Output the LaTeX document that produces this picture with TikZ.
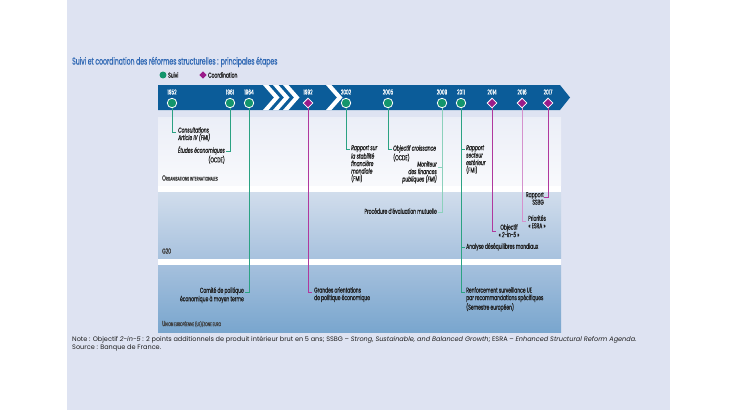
\documentclass[tikz,border=0pt]{standalone}
\usepackage{fontspec}
\setmainfont{Poppins}
\newfontfamily\cnd[FakeStretch=0.62,FakeBold=0.7]{Poppins}
\newfontfamily\cndb[FakeStretch=0.62,FakeBold=1.6]{Poppins}
\usetikzlibrary{shapes.geometric}
\definecolor{panel}{HTML}{DEE3F2}
\definecolor{titleblue}{HTML}{2F68B4}
\definecolor{band}{HTML}{0B5C99}
\definecolor{suivi}{HTML}{13956C}
\definecolor{coord}{HTML}{9A1C8A}
\definecolor{sline}{HTML}{2BA283}
\definecolor{slinel}{HTML}{8CD1BC}
\definecolor{cline}{HTML}{B0389E}
\definecolor{clinel}{HTML}{D591CD}
\definecolor{txt}{HTML}{1E1E1E}
\newcommand\fsc[2]{{\fontsize{7.4}{8}\selectfont #1}{\fontsize{5.3}{6}\selectfont #2}}
\tikzset{
  yr/.style={text=white, font=\cnd\fontsize{6.9}{7}\selectfont, inner sep=0},
  su/.style={circle, fill=suivi, draw=white, line width=0.8, minimum size=9.5, inner sep=0},
  co/.style={diamond, fill=coord, draw=white, line width=0.8, minimum size=10, inner sep=0},
  sl/.style={draw=sline, line width=0.9},
  sll/.style={draw=slinel, line width=0.9},
  cl/.style={draw=cline, line width=0.9},
  cll/.style={draw=clinel, line width=0.9},
  lbl/.style={text=txt, font=\cnd\fontsize{7.2}{7.5}\selectfont, inner sep=0},
  lane/.style={text=txt!85, font=\cndb, inner sep=0, anchor=west},
}
\begin{document}
\begin{tikzpicture}[x=1bp,y=-1bp]
\useasboundingbox (0,0) rectangle (730,410);
\fill[white] (0,0) rectangle (730,410);
\fill[panel] (67,0) rectangle (670,410);
% title and legend
\node[anchor=west, text=titleblue, font=\cnd\fontsize{9.9}{11}\selectfont, inner sep=0] (title) at (72,62) {Suivi et coordination des réformes structurelles : principales étapes};
\node[su, minimum size=7, draw=none] (lgs) at (163,75) {};
\node[lbl, anchor=west] (lgst) at (168,75) {Suivi};
\node[co, minimum size=7.5, draw=none] (lgc) at (203,75) {};
\node[lbl, anchor=west] (lgct) at (208,75) {Coordination};
% lanes
\fill[white] (158,117) rectangle (561,333);
\shade[top color=white!40!panel, bottom color=white!80!panel] (158,117) rectangle (561,185);
\shade[top color={rgb,255:red,209;green,221;blue,236}, bottom color={rgb,255:red,168;green,194;blue,222}] (158,192) rectangle (561,258);
\shade[top color={rgb,255:red,165;green,192;blue,221}, bottom color={rgb,255:red,121;green,166;blue,206}] (158,265) rectangle (561,332);
\node[lane] (lane1) at (162,178) {\fsc{O}{RGANISATIONS INTERNATIONALES}};
\node[lane, font=\cndb\fontsize{7.2}{8}\selectfont] (lane2) at (162,251) {G20};
\node[lane] (lane3) at (162,324) {\fsc{U}{NION EUROPÉENNE (UE)/ZONE EURO}};
% band
\fill[band] (158,85) -- (560,85) -- (570,97.5) -- (560,110) -- (158,110) -- cycle;
\foreach \x in {263,273,283,326}
  \fill[white] (\x,85) -- ++(5.5,0) -- ++(11,12.5) -- ++(-11,12.5) -- ++(-5.5,0) -- ++(11,-12.5) -- cycle;
% years
\foreach \n/\x in {1952/172,1961/230,1964/249,1992/308,2002/346,2005/388,2009/442,2011/461,2014/492,2016/522,2017/548}
  \node[yr] (t\n) at (\x,92) {\n};
% tick coordinates
\coordinate (e1952) at (172,132);
\coordinate (e1961) at (230,151);
\coordinate (e1964) at (249,292);
\coordinate (e1992) at (308,292);
\coordinate (e2002) at (346,149);
\coordinate (e2005) at (388,149);
\coordinate (a2009) at (442,167);
\coordinate (e2009) at (442,212);
\coordinate (a2011) at (461,149);
\coordinate (b2011) at (461,247);
\coordinate (e2011) at (461,292);
\coordinate (e2014) at (492,231);
\coordinate (e2016) at (522,221);
\coordinate (e2017) at (548,197);
% lines
\draw[sl] (172,103) -- (e1952) -- ++(4,0);
\draw[sl] (230,103) -- (e1961) -- ++(-4,0);
\draw[sl] (249,103) -- (e1964) -- ++(-4,0);
\draw[cl] (308,103) -- (e1992) -- ++(4,0);
\draw[sl] (346,103) -- (e2002) -- ++(4,0);
\draw[sl] (388,103) -- (e2005) -- ++(4,0);
\draw[sll] (442,103) -- (e2009) -- ++(-4,0);
\draw[sll] (a2009) -- ++(-4,0);
\draw[sl] (461,103) -- (e2011) -- ++(4,0);
\draw[sl] (a2011) -- ++(4,0);
\draw[sl] (b2011) -- ++(4,0);
\draw[cl] (492,103) -- (e2014) -- ++(4,0);
\draw[cll] (522,103) -- (e2016) -- ++(4,0);
\draw[cl] (548,103) -- (e2017) -- ++(-4,0);
% markers
\foreach \n/\x in {1952/172,1961/230,1964/249,2002/346,2005/388,2009/442,2011/461}
  \node[su] (m\n) at (\x,103) {};
\foreach \n/\x in {1992/308,2014/492,2016/522,2017/548}
  \node[co] (m\n) at (\x,103) {};
% labels
\node[lbl, anchor=north west, align=left] (l1952) at (178,127) {\itshape Consultations\\\itshape Article IV (FMI)};
\node[lbl, anchor=north east, align=right] (l1961) at (225,146) {\itshape Études économiques\\(OCDE)};
\node[lbl, anchor=north east, align=right] (l1964) at (244,287) {Comité de politique\\économique à moyen terme};
\node[lbl, anchor=north west, align=left] (l1992) at (314,287) {Grandes orientations\\de politique économique};
\node[lbl, anchor=north west, align=left] (l2002) at (351,145) {\itshape Rapport sur\\\itshape la stabilité\\\itshape financière\\\itshape mondiale\\(FMI)};
\node[lbl, anchor=north west, align=left] (l2005) at (393,145) {\itshape Objectif croissance\\(OCDE)};
\node[lbl, anchor=north east, align=right] (l2009a) at (437,161) {\itshape Moniteur\\\itshape des finances\\\itshape publiques (FMI)};
\node[lbl, anchor=north east, align=right] (l2009b) at (437,208) {Procédure d’évaluation mutuelle};
\node[lbl, anchor=north west, align=left] (l2011a) at (466,145) {\itshape Rapport\\\itshape secteur\\\itshape extérieur\\(FMI)};
\node[lbl, anchor=north west, align=left] (l2011b) at (466,243) {Analyse déséquilibres mondiaux};
\node[lbl, anchor=north west, align=left] (l2011c) at (466,287) {Renforcement surveillance UE\\par recommandations spécifiques\\(Semestre européen)};
\node[lbl, anchor=north, align=center] (l2014) at (509,224) {Objectif\\«~\textit{2-in-5}~»};
\node[lbl, anchor=north, align=center] (l2016) at (537,215) {Priorités\\«~ESRA~»};
\node[lbl, anchor=north east, align=right] (l2017) at (544,192) {Rapport\\SSBG};
% note
\node[anchor=north west, align=left, text=txt, font=\fontsize{6.55}{8.6}\selectfont, inner sep=0] (note) at (72,336) {Note : Objectif \textit{2-in-5} : 2 points additionnels de produit intérieur brut en 5 ans; SSBG – \textit{Strong, Sustainable, and Balanced Growth}; ESRA – \textit{Enhanced Structural Reform Agenda}.\\Source : Banque de France.};
\end{tikzpicture}
\end{document}
